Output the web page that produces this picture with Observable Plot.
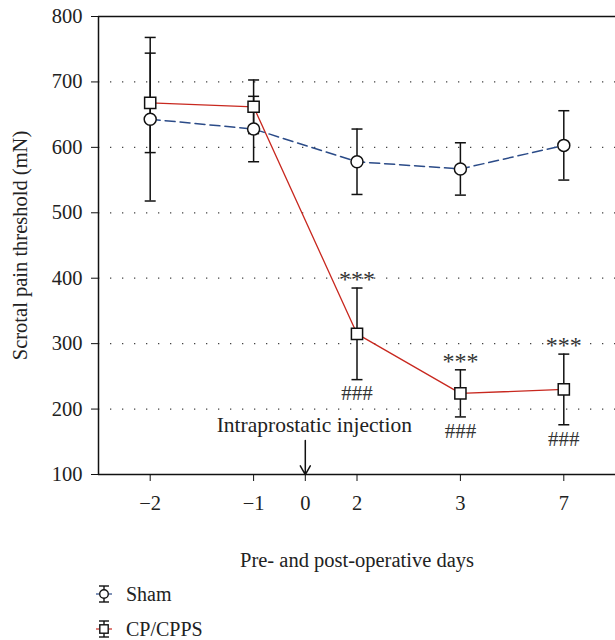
<!DOCTYPE html>
<html><head><meta charset="utf-8">
<script src="https://cdn.jsdelivr.net/npm/d3@7"></script>
<script src="https://cdn.jsdelivr.net/npm/@observablehq/plot@0.6"></script>
<style>
body{margin:0;background:#fff;font-family:"Liberation Serif",serif;}
#wrap{position:relative;width:615px;height:640px;}
.leg{position:absolute;left:96px;height:22px;display:flex;align-items:center;font-size:20px;color:#222;}
.leg svg{margin-right:13px;}
</style></head><body><div id="wrap"><div id="chart"></div></div>
<script>
// ---- data ----
const tickDays = [-2, -1, 0, 2, 3, 7];
const tickSlots = [0, 1, 1.5, 2, 3, 4];   // axis slot of each day label
const days = [-2, -1, 2, 3, 7];
const shamMean = [643, 628, 578, 567, 603];
const shamSD = [125, 50, 50, 40, 53];
const cpMean = [668, 662, 315, 224, 230];
const cpSD = [76, 41, 70, 36, 54];
const sigDays = [2, 3, 7];
const starLabel = "***";
const hashLabel = "###";
const yTicks = [100, 200, 300, 400, 500, 600, 700, 800];
const gridTicks = [200, 300, 400, 500, 600, 700];
const groups = ["Sham", "CP/CPPS"];
const injection = {day: 0, label: "Intraprostatic injection", labelY: 176, arrowTop: 152};

const slotOf = new Map(tickDays.map((d, i) => [d, tickSlots[i]]));
const fmt = d => { const i = tickSlots.indexOf(d); const v = tickDays[i]; return v < 0 ? "\u2212" + Math.abs(v) : String(v); };

const build = (g, m, s) => days.map((d, i) => ({group: g, day: d, slot: slotOf.get(d), mean: m[i], lo: m[i] - s[i], hi: m[i] + s[i]}));
const sham = build(groups[0], shamMean, shamSD);
const cp = build(groups[1], cpMean, cpSD);
const all = [...sham, ...cp];
const sig = cp.filter(d => sigDays.includes(d.day));

const capSymbol = {draw(ctx, size) { const w = Math.sqrt(size / Math.PI); ctx.moveTo(-w, 0); ctx.lineTo(w, 0); }};

const font = "Liberation Serif";
const chart = Plot.plot({
  width: 615, height: 580,
  marginLeft: 98, marginRight: 0, marginTop: 16, marginBottom: 106,
  style: {fontFamily: font, fontSize: "20.5px", color: "#222", background: "white"},
  x: {type: "linear", domain: [-0.5, 4.5]},
  y: {domain: [100, 800]},
  marks: [
    Plot.ruleY(gridTicks, {stroke: "#444", strokeWidth: 1.3, strokeDasharray: "1.3,10.7"}),
    Plot.ruleX([-0.5], {y1: 100, y2: 800, stroke: "#111", strokeWidth: 1.5}),
    Plot.ruleY([100, 800], {stroke: "#111", strokeWidth: 1.5}),
    Plot.line(cp, {x: "slot", y: "mean", stroke: "#c8281f", strokeWidth: 1.3}),
    Plot.line(sham, {x: "slot", y: "mean", stroke: "#2b4b88", strokeWidth: 1.5, strokeDasharray: "10,5"}),
    Plot.ruleX(all, {x: "slot", y1: "lo", y2: "hi", stroke: "#111", strokeWidth: 1.5}),
    Plot.dot(all, {x: "slot", y: "lo", symbol: capSymbol, r: 5.5, stroke: "#111", strokeWidth: 1.5}),
    Plot.dot(all, {x: "slot", y: "hi", symbol: capSymbol, r: 5.5, stroke: "#111", strokeWidth: 1.5}),
    Plot.dot(sham, {x: "slot", y: "mean", symbol: "circle", r: 6, fill: "white", stroke: "#111", strokeWidth: 1.5}),
    Plot.dot(cp, {x: "slot", y: "mean", symbol: "square", r: 6.3, fill: "white", stroke: "#111", strokeWidth: 1.5}),
    Plot.text(sig, {x: "slot", y: "hi", text: () => starLabel, dy: -9, fill: "#333", fontSize: 24}),
    Plot.text(sig, {x: "slot", y: "lo", text: () => hashLabel, dy: 14, fill: "#333", fontSize: 21}),
    Plot.text([injection], {x: d => slotOf.get(d.day), y: "labelY", text: "label", dx: 9, fill: "#222", fontSize: 21.5}),
    Plot.arrow([injection], {x1: d => slotOf.get(d.day), x2: d => slotOf.get(d.day), y1: "arrowTop", y2: 100, stroke: "#111", strokeWidth: 1.5, headLength: 10}),
    Plot.axisY({ticks: yTicks, tickSize: 7, tickPadding: 9, fontSize: 20.5, label: "Scrotal pain threshold (mN)", labelAnchor: "center", labelArrow: "none", labelOffset: 86, stroke: "#111"}),
    Plot.axisX({ticks: tickSlots, tickFormat: fmt, tickSize: 7, tickPadding: 14, fontSize: 20.5, label: "Pre- and post-operative days", labelAnchor: "center", labelArrow: "none", labelOffset: 92, stroke: "#111"})
  ]
});
document.getElementById("chart").appendChild(chart);

// ---- legend ----
const wrap = document.getElementById("wrap");
const legTop = [583, 618];
groups.forEach((g, i) => {
  const el = document.createElement("div");
  el.className = "leg";
  el.style.top = legTop[i] + "px";
  const col = i === 0 ? "#2b4b88" : "#c8281f";
  const shape = i === 0
    ? '<circle cx="8" cy="11" r="4.3" fill="white" stroke="#111" stroke-width="1.4"/>'
    : '<rect x="3.8" y="6.8" width="8.4" height="8.4" fill="white" stroke="#111" stroke-width="1.4"/>';
  el.innerHTML = '<svg width="17" height="22" viewBox="0 0 17 22">' +
    '<line x1="0" x2="3" y1="11" y2="11" stroke="' + col + '" stroke-width="1.2"/>' +
    '<line x1="13" x2="16" y1="11" y2="11" stroke="' + col + '" stroke-width="1.2"/>' +
    '<line x1="8" x2="8" y1="3" y2="19" stroke="#111" stroke-width="1.4"/>' +
    '<line x1="3" x2="13" y1="3" y2="3" stroke="#111" stroke-width="1.4"/>' +
    '<line x1="3" x2="13" y1="19" y2="19" stroke="#111" stroke-width="1.4"/>' +
    shape + '</svg><span>' + g + '</span>';
  wrap.appendChild(el);
});
</script></body></html>
